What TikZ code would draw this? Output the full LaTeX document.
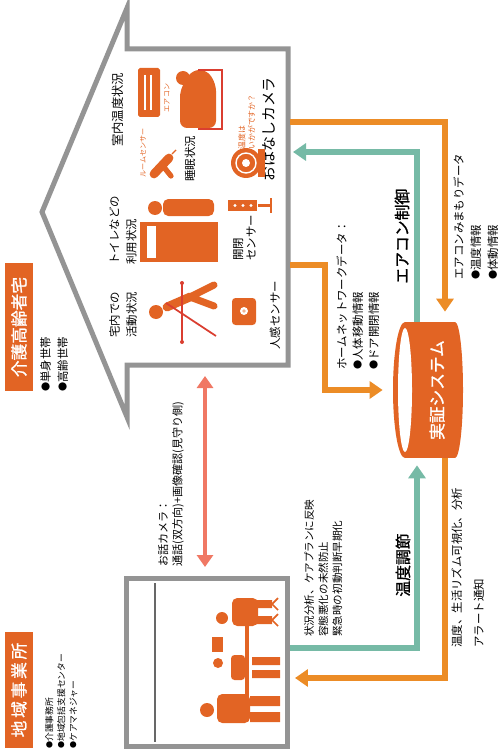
\documentclass[tikz,border=0pt]{standalone}
\usepackage{fontspec}
\setmainfont{Noto Sans CJK JP}
\newfontfamily\boldjp{Noto Sans CJK JP}[FakeBold=1.2]
\usepackage{xcolor}
\usepackage{tikz}
\usetikzlibrary{positioning, arrows.meta}
\definecolor{careorange}{RGB}{226, 100, 36}
\definecolor{flowamber}{RGB}{236, 140, 38}
\definecolor{flowteal}{RGB}{118, 186, 166}
\definecolor{callpink}{RGB}{240, 120, 100}
\definecolor{wallgray}{RGB}{148, 148, 148}
\definecolor{framered}{RGB}{218, 62, 48}
\newcommand{\headdot}[2]{
\fill[careorange] (#1) circle (#2);
}
\newcommand{\bul}{\raisebox{0.08em}{\scalebox{0.8}{●}}}
\tikzset{
  vtext/.style={rotate=90, anchor=north west, align=left, inner sep=0pt},
  vword/.style={rotate=90, anchor=west, inner sep=0pt},
  tagbox/.style={rotate=90, fill=careorange, text=white, inner sep=0pt, minimum height=0.56cm, font=\boldjp\fontsize{9.5}{10}\selectfont},
  tinytext/.style={rotate=90, inner sep=0pt, text=careorange, font=\fontsize{4}{5}\selectfont},
  flowline/.style={line width=0.11cm, -{Triangle[width=0.34cm, length=0.26cm]}},
  callline/.style={callpink, line width=0.09cm, {Triangle[width=0.32cm, length=0.24cm]}-{Triangle[width=0.32cm, length=0.24cm]}},
  wall/.style={wallgray, line width=0.1cm, line join=miter},
}

\begin{document}
\begin{tikzpicture}[x=0.02cm, y=-0.02cm]
    \useasboundingbox (0,0) rectangle (500,753);

    % house outline, roof pointing left
    \draw[wall] (127,8) -- (127,49) -- (288,49) -- (288,365) -- (127,365) -- (127,417) -- (42,212) -- cycle;
    \coordinate (wallA) at (290,122);
    \coordinate (wallB) at (293,152);
    \coordinate (wallC) at (290,265);
    \coordinate (wallD) at (205,376);
    \coordinate (netbend) at (325,390);

    % care office
    \node[draw=wallgray, line width=0.1cm, minimum width=3.22cm, minimum height=3.36cm, inner sep=0pt] (office) at (207,662.5) {};
    \draw[wallgray!70!black, line width=0.6pt] (155,583) -- (155,742);

    % group labels
    \node[tagbox, minimum width=2.58cm] (hometag) at (19,327) {介護高齢者宅};
    \node[vtext, font=\fontsize{6.5}{9.7}\selectfont] (homelist) at (40,392) {\bul 単身世帯\\\bul 高齢世帯};
    \node[tagbox, minimum width=2.34cm] (officetag) at (19,690) {地\,域\,事\,業\,所};
    \node[vtext, font=\fontsize{5}{6.8}\selectfont] (officelist) at (45,749) {\bul 介護事務所\\\bul 地域包括支援センター\\\bul ケアマネジャー};

    % demo system cylinder
    \node[minimum width=1.4cm, minimum height=2.72cm, inner sep=0pt] (sys) at (428,390) {};
    \fill[careorange] (405,322) rectangle (455,458);
    \fill[careorange] (455,390) ellipse [x radius=8, y radius=68];
    \fill[careorange] (405,390) ellipse [x radius=12, y radius=68];
    \fill[white] (405,390) ellipse [x radius=7, y radius=62];
    \node[vword, anchor=center, text=white, font=\boldjp\fontsize{9.5}{10}\selectfont] (systext) at (437,390) {実証システム};

    % data flows
    \draw[flowline, flowamber] (wallA) -| ([xshift=0.34cm, yshift=0.2cm]sys.north);
    \draw[flowline, flowteal] ([xshift=-0.22cm]sys.north) |- (wallB);
    \draw[flowline, flowamber] (wallC) -| (netbend) -- ([xshift=-0.2cm]sys.west);
    \draw[flowline, flowteal] ([yshift=0.29cm]office.east) -| ([xshift=-0.22cm, yshift=-0.14cm]sys.south);
    \draw[flowline, flowamber] ([xshift=0.34cm]sys.south) |- ([xshift=0.1cm, yshift=-0.31cm]office.east);
    \draw[callline, shorten >=0.18cm] (wallD) -- (wallD |- office.north);

    % flow labels
    \node[vtext, font=\fontsize{6.5}{9.1}\selectfont] (netdata) at (336,370) {ホームネットワークデータ：\\\bul 人体移動情報\\\bul ドア開閉情報};
    \node[vword, font=\boldjp\fontsize{9}{10}\selectfont] (acctrl) at (402,284) {エアコン制御};
    \node[vtext, font=\fontsize{6.5}{9.7}\selectfont] (acdata) at (453,280) {エアコンみまもりデータ\\\bul 温度情報\\\bul 体動情報};
    \node[vtext, font=\fontsize{6.3}{8}\selectfont] (calldata) at (158,567) {お話カメラ：\\通話(双方向)+画像確認(見守り側)};
    \node[vtext, font=\fontsize{6}{8}\selectfont] (carenote) at (304,637) {状況分析、ケアプランに反映\\容態悪化の未然防止\\緊急時の初動判断早期化};
    \node[vword, font=\boldjp\fontsize{9}{10}\selectfont] (tempctrl) at (403,597) {温度調節};
    \node[vtext, font=\fontsize{6.5}{12.5}\selectfont] (report) at (451,648) {温度、生活リズム可視化、分析\\アラート通知};

    % room labels
    \node[vword, font=\fontsize{7}{8}\selectfont] (roomtemp) at (118,147) {室内温度状況};
    \node[vword, font=\fontsize{6.5}{8}\selectfont] (sleep) at (190,182) {睡眠状況};
    \node[vword, font=\fontsize{8.5}{9}\selectfont] (camera) at (269,182) {おはなしカメラ};
    \node[vtext, font=\fontsize{6.5}{9.7}\selectfont] (toilet) at (109,265) {トイレなどの\\利用状況};
    \node[vtext, font=\fontsize{6.5}{9.7}\selectfont] (activity) at (109,338) {宅内での\\活動状況};
    \node[vtext, font=\fontsize{6.5}{7.4}\selectfont] (doorsensor) at (233,261) {開閉\\センサー};
    \node[vword, font=\fontsize{6.5}{8}\selectfont] (motionsensor) at (275,350) {人感センサー};
    \node[tinytext] (aclabel) at (167,98) {エアコン};
    \node[tinytext] (roomsensor) at (143,153) {ルームセンサー};
    \node[vtext, text=careorange, font=\fontsize{4.5}{5.5}\selectfont] (greeting) at (238,150) {温度は\\いかがですか？};

    % air conditioner
    \fill[careorange, rounded corners=1pt] (138,68) rectangle (160,117);
    \draw[white, line width=1pt] (145,75) -- (145,110) (151,75) -- (151,110);

    % sleeper in bed
    \fill[careorange, rounded corners=4pt] (180,90) -- (192,70) -- (207,70) -- (216,84) -- (216,128) -- (180,128) -- cycle;
    \headdot{183,78}{7}
    \draw[framered, line width=1.2pt] (198,70) -- (222,70) -- (222,129) -- (198,129);

    % room sensor
    \draw[careorange, line width=5pt, line cap=round] (154,174) -- (169,158);
    \draw[careorange, line width=3pt, line cap=round] (163,166) -- (171,176);
    \draw[careorange, line width=0.8pt] (172,154) -- (176,150);

    % talking camera
    \fill[careorange] (246,163) circle (15);
    \draw[white, line width=0.8pt] (246,163) circle (10);
    \fill[white] (246,163) circle (4);
    \fill[careorange] (258,149) rectangle (265,177);

    % toilet use
    \fill[careorange] (140,222) rectangle (218,262);
    \fill[white] (147,226) rectangle (156,258);
    \headdot{155,208}{7}
    \fill[careorange, rounded corners=3pt] (163,199) rectangle (214,216);

    % walking with a cane
    \headdot{156,312}{7}
    \draw[careorange, line width=5pt, line cap=round] (167,307) -- (190,297);
    \draw[careorange, line width=4pt, line cap=round] (190,297) -- (214,285) (190,297) -- (214,306);
    \draw[framered, line width=1pt] (182,283) -- (182,342) (166,303) -- (216,336);
    \fill[framered] (182,283) circle (2) (182,342) circle (2);

    % motion sensor
    \fill[careorange, rounded corners=2pt] (232,298) rectangle (256,325);
    \fill[white] (244,311) circle (4);
    \fill[careorange!50] (244,311) circle (1.8);

    % door sensor
    \fill[careorange] (228,200) rectangle (257,211);
    \foreach \x in {235,243,251}
        \fill[white] (\x,205.5) circle (1.6);
    \draw[careorange, line width=1.5pt] (258,205.5) -- (271,205.5) (271,198) -- (271,213);

    % meeting at the care office
    \headdot{222,618}{6}
    \fill[careorange, rounded corners=3pt] (232,598) rectangle (258,626);
    \fill[careorange] (256,600) rectangle (272,608) (256,616) rectangle (272,624);
    \draw[careorange, line width=1pt] (272,604) -- (278,598) (272,604) -- (278,610) (272,620) -- (278,614) (272,620) -- (278,626);
    \fill[careorange] (212,637) rectangle (223,652);
    \draw[careorange, line width=2pt] (247,606) -- (247,718);
    \headdot{218,663}{5}
    \fill[careorange, rounded corners=2pt] (231,655) rectangle (245,680);
    \fill[careorange] (252,657) rectangle (280,665) (252,670) rectangle (280,678);
    \headdot{207,710}{7}
    \fill[careorange, rounded corners=3pt] (217,694) rectangle (250,723);
    \fill[careorange] (250,696) rectangle (280,706) (250,712) rectangle (280,722);
\end{tikzpicture}
\end{document}
